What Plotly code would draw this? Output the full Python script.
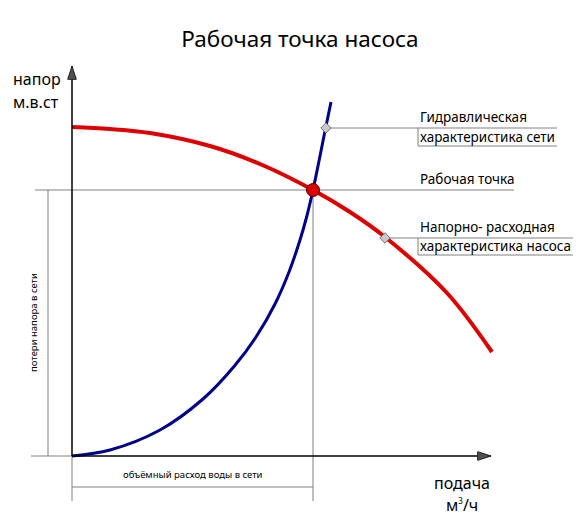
import plotly.graph_objects as go

# pump curve (head vs flow)
pump_q = [0, 3.8, 7.8, 13.8, 18.8, 24.1, 27.8, 31.3, 37.5, 42.0]
pump_h = [32.9, 32.7, 32.3, 31.0, 29.2, 26.6, 24.4, 21.9, 16.3, 10.4]

# network curve
net_q = [0, 3.8, 8.8, 13.1, 16.2, 18.4, 20.3, 21.7, 22.8, 23.5, 24.1, 24.7, 25.3, 25.9]
net_h = [0, 0.6, 2.6, 5.7, 8.95, 11.9, 15.2, 18.4, 21.6, 24.05, 26.6, 29.5, 32.5, 35.4]

# working point and label anchor points on the curves
work_q, work_h = 24.1, 26.6
net_tag_q, net_tag_h = 25.4, 32.8
pump_tag_q, pump_tag_h = 31.3, 21.8

x_axis_end = 41.9
y_axis_end = 39.0

FONT = "Noto Sans"
GRAY = "#808080"

fig = go.Figure()

fig.add_trace(go.Scatter(
    x=pump_q, y=pump_h, mode="lines", line=dict(color="#dd0000", width=4, shape="spline"),
    hoverinfo="skip"))
fig.add_trace(go.Scatter(
    x=net_q, y=net_h, mode="lines", line=dict(color="#00008b", width=3, shape="spline"),
    hoverinfo="skip"))

# axes with arrows
fig.add_trace(go.Scatter(
    x=[0, 0], y=[0, y_axis_end], mode="lines", line=dict(color="black", width=1.5), hoverinfo="skip"))
fig.add_trace(go.Scatter(
    x=[0, x_axis_end], y=[0, 0], mode="lines", line=dict(color="black", width=1.5), hoverinfo="skip"))
fig.add_trace(go.Scatter(
    x=[0, x_axis_end], y=[y_axis_end, 0], mode="markers",
    marker=dict(symbol="arrow", size=14, angle=[0, 90], color="#505050",
                line=dict(color="#202020", width=1)),
    hoverinfo="skip"))

# small tags where the leaders meet the curves
fig.add_trace(go.Scatter(
    x=[net_tag_q, pump_tag_q], y=[net_tag_h, pump_tag_h], mode="markers",
    marker=dict(symbol="diamond", size=8, color="#c8c8c8", line=dict(color="#707070", width=1)),
    hoverinfo="skip"))

# working point
fig.add_trace(go.Scatter(
    x=[work_q], y=[work_h], mode="markers",
    marker=dict(symbol="circle", size=13, color="#dd0000", line=dict(color="#500000", width=1)),
    hoverinfo="skip"))

# guide / bracket lines
def seg(x0, y0, x1, y1, color=GRAY, width=1):
    fig.add_shape(type="line", xref="x", yref="y", x0=x0, y0=y0, x1=x1, y1=y1,
                  line=dict(color=color, width=width), layer="below")

seg(-3.7, work_h, 44.2, work_h)          # working head line
seg(work_q, work_h, work_q, -4.5)        # working flow line
seg(-2.4, 0, -2.4, work_h)               # head loss bracket
seg(-4.1, 0, 0, 0)
seg(0, 0, 0, -4.5)
seg(0, -3.1, work_q, -3.1)               # flow bracket

# leader boxes
seg(net_tag_q, net_tag_h, 48.5, net_tag_h)
seg(34.6, net_tag_h, 34.6, 31.0)
seg(34.6, 31.0, 48.5, 31.0)
seg(pump_tag_q, pump_tag_h, 50.1, pump_tag_h)
seg(34.6, pump_tag_h, 34.6, 20.1)
seg(34.6, 20.1, 50.1, 20.1)

def label(x, y, text, size=13.5, xanchor="left", angle=0):
    fig.add_annotation(x=x, y=y, xref="x", yref="y", text=text, showarrow=False,
                       xanchor=xanchor, yanchor="middle", textangle=angle,
                       font=dict(family=FONT, size=size, color="black"))

label(34.6, 33.9, "Гидравлическая")
label(34.6, 31.9, "характеристика сети")
label(34.6, 27.7, "Рабочая точка")
label(34.6, 22.9, "Напорно- расходная")
label(34.6, 21.0, "характеристика насоса")

label(-3.5, 37.7, "напор", size=16, xanchor="center")
label(-3.6, 35.4, "м.в.ст", size=16, xanchor="center")
label(39.0, -2.7, "подача", size=16, xanchor="center")
label(39.0, -4.9, "м<sup><span style='font-size:8px'>3</span></sup>/ч", size=16, xanchor="center")
label(12.05, -1.8, "объёмный расход воды в сети", size=9.5, xanchor="center")
label(-3.9, 13.3, "потери напора в сети", size=9.5, xanchor="center", angle=-90)

fig.update_layout(
    title=dict(text="Рабочая точка насоса", x=0.511, xanchor="center",
               y=1 - 39 / 520, yanchor="middle",
               font=dict(family=FONT, size=22.5, color="black")),
    width=587, height=520, autosize=False,
    margin=dict(l=0, r=0, t=0, b=0),
    plot_bgcolor="white", paper_bgcolor="white",
    showlegend=False,
    xaxis=dict(range=[-7.2, 51.5], visible=False, fixedrange=True),
    yaxis=dict(range=[-6.4, 45.6], visible=False, fixedrange=True),
)

# drop the page's default body margin so the figure sits at the window's corner
fig.write_html("out.html", config={"displayModeBar": False},
               post_script="document.body.style.margin='0';")
